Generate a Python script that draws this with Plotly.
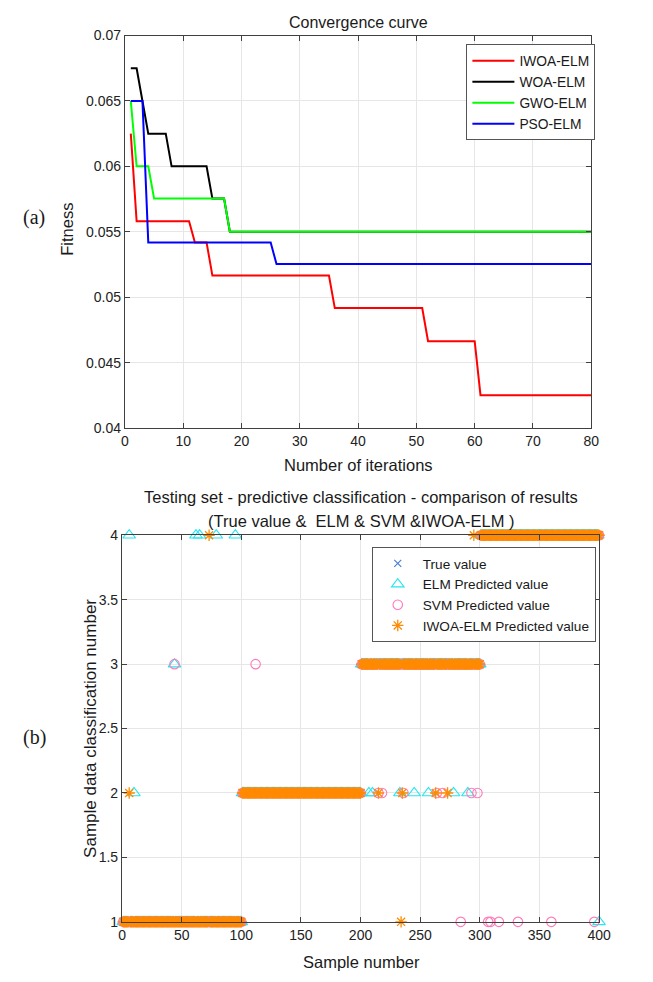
import numpy as np
import plotly.graph_objects as go

W, H = 653, 982
FONT = "Liberation Sans, Arial, Helvetica, sans-serif"
SERIF = "Liberation Serif, Times New Roman, serif"

# ---------------- (a) convergence curves ----------------
# each curve is stored as fitness levels and how many iterations each level lasts
IWOA_LEVELS = [0.0625, 0.05581, 0.05419, 0.05165, 0.04917, 0.04664, 0.04251]
IWOA_RUNS = [1, 10, 3, 21, 16, 9, 20]
WOA_LEVELS = [0.0675, 0.0650, 0.0625, 0.0600, 0.05754, 0.0550]
WOA_RUNS = [2, 1, 4, 7, 3, 63]
GWO_LEVELS = [0.0650, 0.0600, 0.05754, 0.0550]
GWO_RUNS = [1, 3, 13, 63]
PSO_LEVELS = [0.0650, 0.05419, 0.05253]
PSO_RUNS = [3, 22, 55]

CURVE_NAMES = ["IWOA-ELM", "WOA-ELM", "GWO-ELM", "PSO-ELM"]
CURVE_COLORS = ["#ff0000", "#000000", "#00ff00", "#0000ff"]

FIT_YTICKS = [0.04, 0.045, 0.05, 0.055, 0.06, 0.065, 0.07]
FIT_YTEXT = ["0.04", "0.045", "0.05", "0.055", "0.06", "0.065", "0.07"]
ITER_XTICKS = [0, 10, 20, 30, 40, 50, 60, 70, 80]

# ---------------- (b) test-set classification ----------------
CLASS_LABELS = [1, 2, 3, 4]
CLASS_SIZES = [100, 100, 100, 100]

# samples whose predicted class differs from the true class
ELM_WRONG_SAMPLES = [6, 10, 44, 62, 65, 79, 95, 207, 210, 233, 245, 257, 278, 290, 400]
ELM_WRONG_LABELS = [4, 2, 3, 4, 4, 4, 4, 2, 2, 2, 2, 2, 2, 2, 1]
SVM_WRONG_SAMPLES = [44, 112, 215, 218, 236, 264, 269, 293, 298, 284, 307, 309, 316, 332, 360, 396]
SVM_WRONG_LABELS = [3, 3, 2, 2, 2, 2, 2, 2, 2, 1, 1, 1, 1, 1, 1, 1]
IWOA_WRONG_SAMPLES = [6, 73, 215, 235, 263, 273, 234, 295]
IWOA_WRONG_LABELS = [2, 4, 2, 2, 2, 2, 1, 4]

CLS_YTICKS = [1, 1.5, 2, 2.5, 3, 3.5, 4]
CLS_YTEXT = ["1", "1.5", "2", "2.5", "3", "3.5", "4"]
SAMPLE_XTICKS = [0, 50, 100, 150, 200, 250, 300, 350, 400]


def expand(levels, runs):
    return np.repeat(levels, runs)


def predicted(true, samples, labels):
    out = true.copy()
    out[np.asarray(samples) - 1] = labels
    return out


fig = go.Figure()

# convergence curves
curves = [expand(IWOA_LEVELS, IWOA_RUNS), expand(WOA_LEVELS, WOA_RUNS),
          expand(GWO_LEVELS, GWO_RUNS), expand(PSO_LEVELS, PSO_RUNS)]
for name, color, y in zip(CURVE_NAMES, CURVE_COLORS, curves):
    x = np.arange(1, len(y) + 1)
    fig.add_trace(go.Scatter(x=x, y=y, mode="lines", name=name,
                             line=dict(color=color, width=2),
                             xaxis="x", yaxis="y", legend="legend"))

# classification results
true_cls = np.repeat(CLASS_LABELS, CLASS_SIZES)
sample_no = np.arange(1, len(true_cls) + 1)
elm_cls = predicted(true_cls, ELM_WRONG_SAMPLES, ELM_WRONG_LABELS)
svm_cls = predicted(true_cls, SVM_WRONG_SAMPLES, SVM_WRONG_LABELS)
iwoa_cls = predicted(true_cls, IWOA_WRONG_SAMPLES, IWOA_WRONG_LABELS)

marker_sets = [
    ("True value", true_cls, "x-thin-open", "#4a7fd4", 7, 1.2),
    ("ELM Predicted value", elm_cls, "triangle-up-open", "#22e6f0", 11, 1.1),
    ("SVM Predicted value", svm_cls, "circle-open", "#ff7ab8", 9.5, 1.1),
    ("IWOA-ELM Predicted value", iwoa_cls, "asterisk-open", "#ff8a00", 9.5, 1.3),
]
for name, y, sym, color, size, lw in marker_sets:
    fig.add_trace(go.Scatter(x=sample_no, y=y, mode="markers", name=name,
                             marker=dict(symbol=sym, size=size, color=color,
                                         line=dict(width=lw, color=color)),
                             cliponaxis=False,
                             xaxis="x2", yaxis="y2", legend="legend2"))

axis_common = dict(showgrid=True, gridcolor="#e6e6e6", gridwidth=1,
                   showline=True, linecolor="#404040", linewidth=1.2,
                   mirror="ticks", ticks="inside", ticklen=5, tickcolor="#404040",
                   zeroline=False, tickfont=dict(family=FONT, size=14, color="#222"))


def px_x(p):
    return p / W


def px_y(p):
    return 1 - p / H


fig.update_layout(
    width=W, height=H,
    margin=dict(l=0, r=0, t=0, b=0),
    paper_bgcolor="white", plot_bgcolor="white",
    showlegend=True,
    xaxis=dict(domain=[px_x(124), px_x(602)], range=[0, 80],
               tickvals=ITER_XTICKS, anchor="y", **axis_common),
    yaxis=dict(domain=[px_y(427), px_y(28)], range=[0.04, 0.07],
               tickvals=FIT_YTICKS, ticktext=FIT_YTEXT, anchor="x", **axis_common),
    xaxis2=dict(domain=[px_x(121), px_x(610)], range=[0, 400],
                tickvals=SAMPLE_XTICKS, anchor="y2", **axis_common),
    yaxis2=dict(domain=[px_y(929), px_y(536)], range=[1, 4],
                tickvals=CLS_YTICKS, ticktext=CLS_YTEXT, anchor="x2", **axis_common),
    legend=dict(x=px_x(474), y=px_y(37), xanchor="left", yanchor="top",
                bgcolor="white", bordercolor="#555", borderwidth=1,
                font=dict(family=FONT, size=13.8, color="#1a1a1a"),
                itemwidth=42, tracegroupgap=0),
    legend2=dict(x=px_x(377), y=px_y(548), xanchor="left", yanchor="top",
                 bgcolor="white", bordercolor="#555", borderwidth=1,
                 font=dict(family=FONT, size=13.6, color="#1a1a1a"),
                 itemwidth=40, tracegroupgap=0),
)

texts = [
    ("Convergence curve", 363, 15, 16, FONT, 0),
    ("Number of iterations", 363, 465, 16.5, FONT, 0),
    ("Fitness", 65, 225, 16.5, FONT, -90),
    ("(a)", 31, 213, 20, SERIF, 0),
    ("Testing set - predictive classification - comparison of results", 366, 497, 16.5, FONT, 0),
    ("(True value &  ELM & SVM &IWOA-ELM )", 366, 522, 16.5, FONT, 0),
    ("Sample number", 366, 970, 16.5, FONT, 0),
    ("Sample data classification number", 88, 732, 17, FONT, -90),
    ("(b)", 31, 742, 20, SERIF, 0),
]
for txt, x, y, size, fam, ang in texts:
    fig.add_annotation(text=txt, x=px_x(x), y=px_y(y), xref="paper", yref="paper",
                       xanchor="center", yanchor="middle", showarrow=False,
                       textangle=ang, font=dict(family=fam, size=size, color="#1a1a1a"))

fig.write_html("out.html")
